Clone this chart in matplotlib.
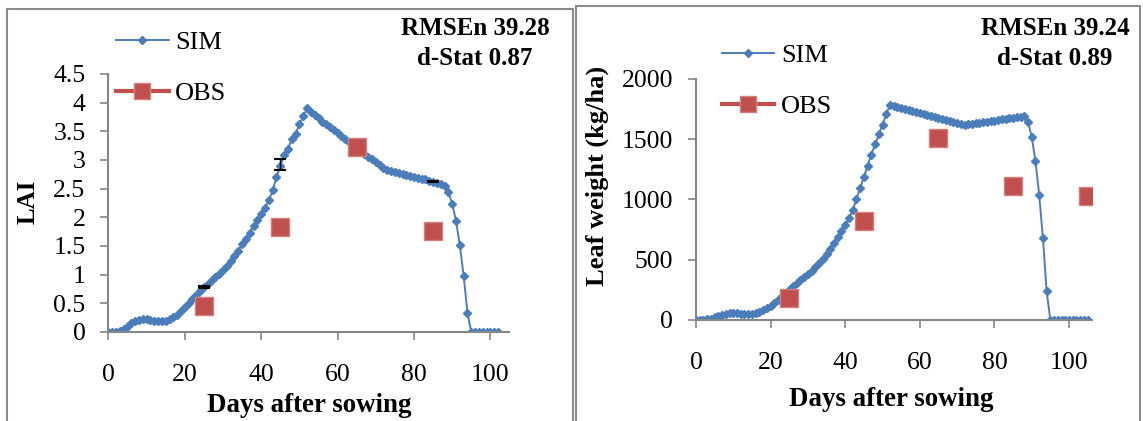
import numpy as np
import matplotlib.pyplot as plt
from matplotlib.lines import Line2D
from matplotlib.patches import Rectangle

plt.rcParams['font.family'] = ['Liberation Serif', 'DejaVu Serif']

# Simulated LAI, one value per day after sowing
lai_days = list(range(0, 103))
lai_sim = [0, 0, 0, 0.02, 0.06, 0.1, 0.15, 0.19, 0.21, 0.22,
           0.22, 0.21, 0.2, 0.19, 0.19, 0.2, 0.22, 0.26, 0.3, 0.36,
           0.43, 0.5, 0.58, 0.65, 0.72, 0.78, 0.83, 0.9, 0.96, 1.02,
           1.08, 1.15, 1.24, 1.33, 1.42, 1.53, 1.62, 1.73, 1.85, 1.95,
           2.05, 2.17, 2.3, 2.47, 2.7, 2.9, 3.08, 3.2, 3.36, 3.46,
           3.62, 3.76, 3.9, 3.83, 3.78, 3.73, 3.67, 3.62, 3.57, 3.52,
           3.47, 3.42, 3.37, 3.32, 3.27, 3.22, 3.17, 3.11, 3.06, 3.01,
           2.96, 2.91, 2.86, 2.83, 2.81, 2.79, 2.77, 2.75, 2.74, 2.72,
           2.71, 2.69, 2.67, 2.66, 2.64, 2.62, 2.6, 2.58, 2.55, 2.44,
           2.24, 1.94, 1.51, 0.98, 0.33, 0, 0, 0, 0, 0,
           0, 0, 0]
lai_obs_days = [25, 45, 65, 85]
lai_obs = [0.45, 1.84, 3.23, 1.76]
lai_err_days = [25, 45, 85]
lai_err_mid = [0.78, 2.92, 2.62]
lai_err = [0.02, 0.09, 0.01]

# Simulated leaf weight (kg/ha)
lw_days = list(range(0, 106))
lw_sim = [0, 0, 0, 5, 12, 22, 33, 43, 52, 56,
          57, 55, 52, 50, 50, 52, 57, 66, 80, 98,
          118, 142, 168, 196, 224, 252, 280, 307, 333, 358,
          383, 410, 440, 472, 506, 545, 590, 640, 690, 740,
          790, 845, 910, 1000, 1095, 1185, 1280, 1370, 1455, 1540,
          1620, 1705, 1785, 1777, 1768, 1760, 1751, 1743, 1734, 1726,
          1717, 1709, 1700, 1692, 1683, 1675, 1666, 1658, 1649, 1641,
          1632, 1624, 1616, 1621, 1625, 1630, 1634, 1639, 1644, 1648,
          1653, 1658, 1662, 1667, 1671, 1676, 1681, 1685, 1690, 1640,
          1520, 1320, 1040, 683, 240, 0, 0, 0, 0, 0,
          0, 0, 0, 0, 0, 0]
lw_obs_days = [25, 45, 65, 85, 105]
lw_obs = [185, 820, 1510, 1110, 1027]

lai_ticks = [0, 0.5, 1, 1.5, 2, 2.5, 3, 3.5, 4, 4.5]
lai_ticklabels = ['0', '0.5', '1', '1.5', '2', '2.5', '3', '3.5', '4', '4.5']
lw_ticks = [0, 500, 1000, 1500, 2000]
day_ticks = [0, 20, 40, 60, 80, 100]

W, H = 1143, 421
sim_color = '#4A7EBB'
obs_color = '#C0504D'
axis_gray = '#868686'

fig = plt.figure(figsize=(W / 100, H / 100), dpi=100)

# chart frames
for x0, y0, x1 in [(7, 9, 573), (576, 6, 1140)]:
    fig.patches.append(Rectangle((x0 / W, -0.05), (x1 - x0) / W, 1.05 - y0 / H,
                                 transform=fig.transFigure, fill=False,
                                 edgecolor='#8C8C8C', linewidth=1.5))


def style_axes(ax):
    for side in ['top', 'right']:
        ax.spines[side].set_visible(False)
    for side in ['left', 'bottom']:
        ax.spines[side].set_color(axis_gray)
        ax.spines[side].set_linewidth(1.5)
    ax.tick_params(axis='both', direction='out', length=5.5, width=1.2,
                   color=axis_gray, labelsize=18.5)
    ax.tick_params(axis='x', pad=17.5)
    ax.tick_params(axis='y', pad=11)
    ax.set_xticks(day_ticks)


def add_legend(ax, x, y):
    handles = [Line2D([], [], color=sim_color, lw=1.4, marker='D', ms=4.2),
               Line2D([], [], color=obs_color, lw=3, marker='s', ms=11,
                      mec='#D47F7D')]
    ax.legend(handles, ['SIM', 'OBS'], loc='upper left',
              bbox_to_anchor=(x / W, 1 - y / H), bbox_transform=fig.transFigure,
              frameon=False, fontsize=19, handlelength=2.0, handletextpad=0.25,
              labelspacing=1.05, borderpad=0, borderaxespad=0)


# LAI panel
ax1 = fig.add_axes([108.4 / W, 89 / H, 105 * 3.82 / W, 258 / H])
ax1.plot(lai_days, lai_sim, color=sim_color, lw=1.4, marker='D', ms=4.2)
ax1.errorbar(lai_err_days, lai_err_mid, yerr=lai_err, fmt='none',
             ecolor='black', elinewidth=1, capsize=4.5, capthick=1.5)
ax1.plot(lai_obs_days, lai_obs, linestyle='none', marker='s', ms=13.5,
         color=obs_color, mec='#D47F7D', mew=1)
ax1.set_xlim(0, 105)
ax1.set_ylim(0, 4.5)
style_axes(ax1)
ax1.set_yticks(lai_ticks)
ax1.set_yticklabels(lai_ticklabels)
add_legend(ax1, 116, 30.5)
fig.text(28.4 / W, 1 - 201.7 / H, 'LAI', rotation=90, ha='center', va='center',
         fontsize=18, fontweight='bold')
fig.text(309 / W, 1 - 405 / H, 'Days after sowing', ha='center', va='center',
         fontsize=19.4, fontweight='bold')
fig.text(475 / W, 1 - 28.3 / H, 'RMSEn 39.28', ha='center', va='center',
         fontsize=18, fontweight='bold')
fig.text(475 / W, 1 - 58.3 / H, 'd-Stat 0.87', ha='center', va='center',
         fontsize=18, fontweight='bold')

# Leaf weight panel
ax2 = fig.add_axes([696 / W, 101 / H, 106.3 * 3.73 / W, 241.3 / H])
ax2.plot(lw_days, lw_sim, color=sim_color, lw=1.4, marker='D', ms=4.2)
ax2.plot(lw_obs_days, lw_obs, linestyle='none', marker='s', ms=13.5,
         color=obs_color, mec='#D47F7D', mew=1)
ax2.set_xlim(0, 106.3)
ax2.set_ylim(0, 2000)
style_axes(ax2)
ax2.set_yticks(lw_ticks)
add_legend(ax2, 721.7, 43.5)
fig.text(597.4 / W, 1 - 175.8 / H, 'Leaf weight (kg/ha)', rotation=90,
         ha='center', va='center', fontsize=19, fontweight='bold')
fig.text(891.6 / W, 1 - 400 / H, 'Days after sowing', ha='center', va='center',
         fontsize=19.4, fontweight='bold')
fig.text(1055 / W, 1 - 28.3 / H, 'RMSEn 39.24', ha='center', va='center',
         fontsize=18, fontweight='bold')
fig.text(1055 / W, 1 - 58.3 / H, 'd-Stat 0.89', ha='center', va='center',
         fontsize=18, fontweight='bold')

plt.savefig('out.png', dpi=100)
